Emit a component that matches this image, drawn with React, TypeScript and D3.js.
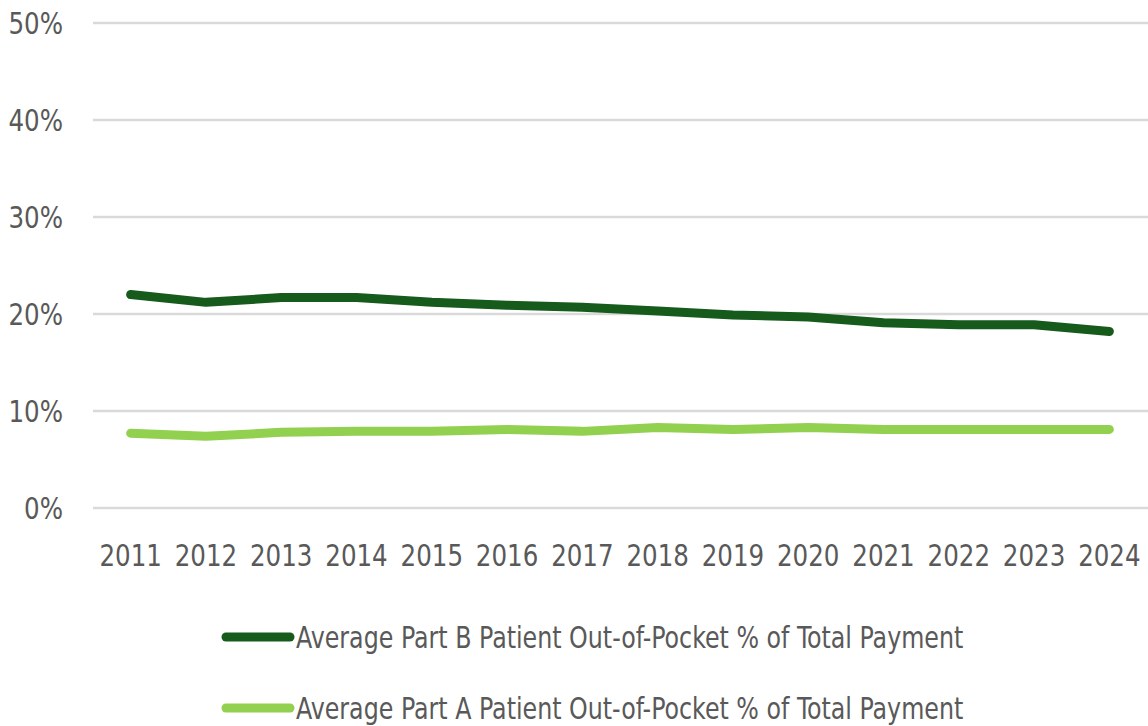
import React from "react";
import * as d3 from "d3";

const years = ["2011","2012","2013","2014","2015","2016","2017","2018","2019","2020","2021","2022","2023","2024"];
const partB = [22.0, 21.2, 21.7, 21.7, 21.2, 20.9, 20.7, 20.3, 19.9, 19.7, 19.1, 18.9, 18.9, 18.2];
const partA = [7.7, 7.4, 7.8, 7.9, 7.9, 8.1, 7.9, 8.3, 8.1, 8.3, 8.1, 8.1, 8.1, 8.1];
const yTicks = [0, 10, 20, 30, 40, 50];
const seriesNames = [
  "Average Part B Patient Out-of-Pocket % of Total Payment",
  "Average Part A Patient Out-of-Pocket % of Total Payment",
];
const colors = ["#165a1c", "#92d050"];

const W = 1148, H = 726;
const FONT = "'DejaVu Sans Condensed', 'DejaVu Sans', sans-serif";
const SX = 0.88;

export default function App() {
  const x = d3.scaleBand().domain(years).range([93, 1147]);
  const y = d3.scaleLinear().domain([0, 50]).range([508, 23]);
  const cx = (d: string) => (x(d) as number) + x.bandwidth() / 2;
  const line = d3.line<number>().x((_, i) => cx(years[i])).y((v) => y(v));
  const series = [partB, partA];
  return (
    <svg width={W} height={H} style={{ position: "absolute", left: 0, top: 0, background: "#fff" }} fontFamily={FONT}>
      <rect width={W} height={H} fill="#fff" />
      {yTicks.map((t) => (
        <g key={t}>
          <line x1={93} x2={1148} y1={y(t)} y2={y(t)} stroke="#d9d9d9" strokeWidth={2.5} />
          <text transform={`translate(63,${y(t)}) scale(${SX},1)`} dy="0.36em" textAnchor="end" fontSize={31} fill="#595959">{t}%</text>
        </g>
      ))}
      {years.map((yr) => (
        <text key={yr} transform={`translate(${cx(yr)},555) scale(${SX},1)`} dy="0.36em" textAnchor="middle" fontSize={31} fill="#595959">{yr}</text>
      ))}
      {series.map((s, i) => (
        <path key={i} d={line(s) as string} fill="none" stroke={colors[i]} strokeWidth={9} strokeLinecap="round" strokeLinejoin="round" />
      ))}
      {seriesNames.map((n, i) => (
        <g key={n}>
          <line x1={226} x2={290} y1={637 + i * 71} y2={637 + i * 71} stroke={colors[i]} strokeWidth={9} strokeLinecap="round" />
          <text transform={`translate(296,${637 + i * 71}) scale(${SX},1)`} dy="0.36em" fontSize={30} fill="#595959">{n}</text>
        </g>
      ))}
    </svg>
  );
}
